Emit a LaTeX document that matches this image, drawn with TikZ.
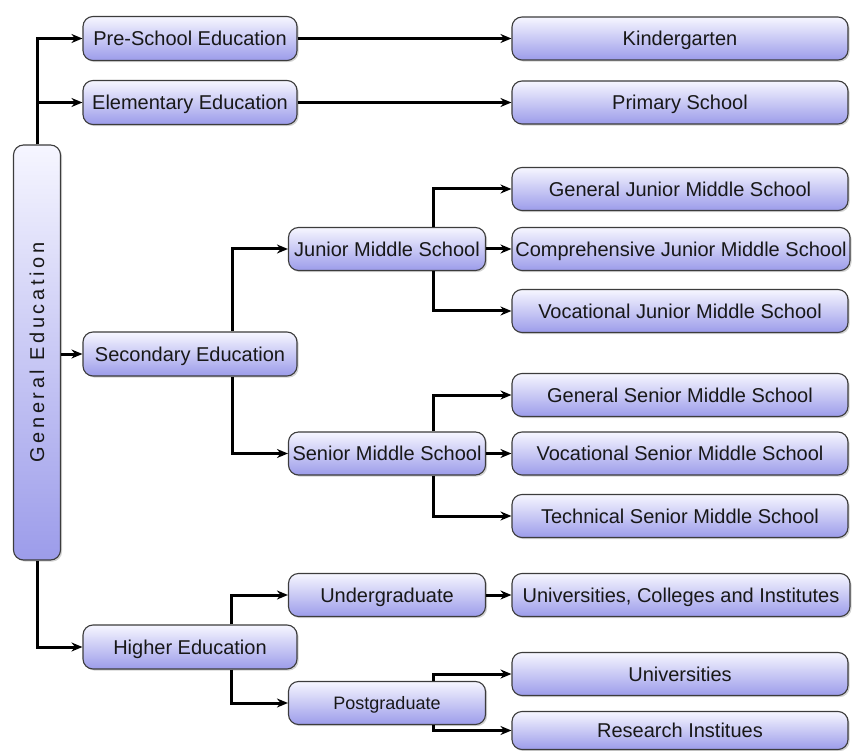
\documentclass[tikz,border=0pt]{standalone}
\usepackage{fontspec}
\setmainfont{Liberation Sans}
\usetikzlibrary{arrows.meta,shadows}
\definecolor{boxtop}{RGB}{246,246,255}
\definecolor{boxbot}{RGB}{156,156,234}
\definecolor{boxline}{RGB}{60,60,60}
\definecolor{txt}{RGB}{24,24,24}
\begin{document}
\begin{tikzpicture}[x=1pt,y=-1pt,
  box/.style={draw=boxline, line width=1.1pt, rounded corners=10pt,
    top color=boxtop, bottom color=boxbot, text=txt,
    font=\fontsize{20}{24}\selectfont, inner sep=0pt,
    text height=14.3pt, text depth=0pt,
    drop shadow={shadow xshift=1.6pt, shadow yshift=-1.6pt, opacity=0.35}},
  lbox/.style={box, minimum width=214pt, minimum height=44pt},
  mbox/.style={box, minimum width=197pt, minimum height=43pt},
  rbox/.style={box, minimum width=336pt, minimum height=43pt},
  link/.style={line width=3pt, -{Stealth[length=11pt,width=9pt]}}]
\useasboundingbox (0,0) rectangle (854,751);

% root column
\node[box, minimum width=47pt, minimum height=415pt, text height=, text depth=]
  (gen) at (37,352.5)
  {\rotatebox{90}{\addfontfeature{LetterSpace=18}General Education}};

% first level
\node[lbox] (pre)  at (190,38.5) {Pre-School Education};
\node[lbox] (elem) at (190,102.5) {Elementary Education};
\node[lbox] (sec)  at (190,354)  {Secondary Education};
\node[lbox] (high) at (190,647)  {Higher Education};

% second level
\node[mbox] (jms)   at (387,249)   {Junior Middle School};
\node[mbox] (sms)   at (387,453.5) {Senior Middle School};
\node[mbox] (under) at (387,595)   {Undergraduate};
\node[mbox, font=\fontsize{18}{22}\selectfont, text height=12.9pt] (post) at (387,703) {Postgraduate};

% leaves
\node[rbox] (kind)  at (680,38.5)  {Kindergarten};
\node[rbox] (prim)  at (680,102.5) {Primary School};
\node[rbox] (gjms)  at (680,189) {General Junior Middle School};
\node[rbox, minimum width=338pt] (cjms) at (681,249) {Comprehensive Junior Middle School};
\node[rbox] (vjms)  at (680,311) {Vocational Junior Middle School};
\node[rbox] (gsms)  at (680,395) {General Senior Middle School};
\node[rbox] (vsms)  at (680,453.5) {Vocational Senior Middle School};
\node[rbox] (tsms)  at (680,516) {Technical Senior Middle School};
\node[rbox, minimum width=338pt] (ucoll) at (681,595) {Universities, Colleges and Institutes};
\node[rbox] (univ)  at (680,674) {Universities};
\node[rbox, minimum height=38pt] (res) at (680,730.5) {Research Institues};

% connectors from the root
\draw[link] (gen.north) |- (pre.west);
\draw[link] (gen.north) |- (elem.west);
\draw[link] (sec.west -| gen.east) -- (sec.west);
\draw[link] (gen.south) |- (high.west);

\draw[link] (pre.east) -- (kind.west);
\draw[link] (elem.east) -- (prim.west);

% secondary education
\draw[link] ([xshift=42pt]sec.north) |- (jms.west);
\draw[link] ([xshift=42pt]sec.south) |- (sms.west);

\draw[link] ([xshift=46pt]jms.north) |- (gjms.west);
\draw[link] (jms.east) -- (cjms.west);
\draw[link] ([xshift=46pt]jms.south) |- (vjms.west);

\draw[link] ([xshift=46pt]sms.north) |- (gsms.west);
\draw[link] (sms.east) -- (vsms.west);
\draw[link] ([xshift=46pt]sms.south) |- (tsms.west);

% higher education
\draw[link] ([xshift=41pt]high.north) |- (under.west);
\draw[link] ([xshift=41pt]high.south) |- (post.west);
\draw[link] (under.east) -- (ucoll.west);
\draw[link] ([xshift=46pt]post.north) |- (univ.west);
\draw[link] ([xshift=46pt]post.south) |- (res.west);
\end{tikzpicture}
\end{document}
